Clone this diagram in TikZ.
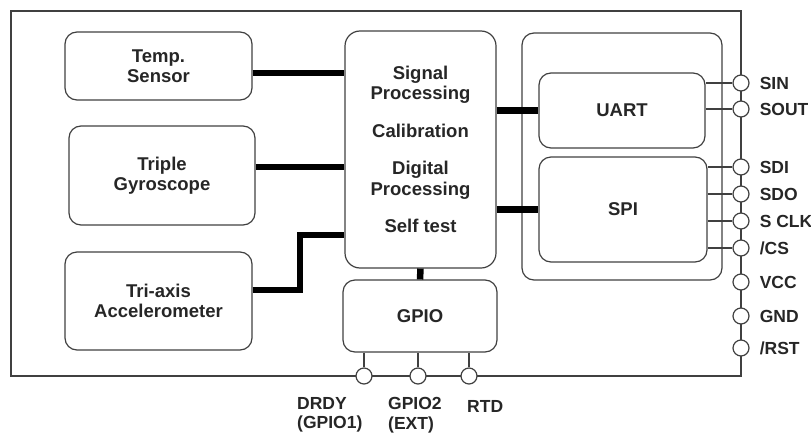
\documentclass[tikz,border=0pt]{standalone}
\usepackage{fontspec}
\setmainfont{Liberation Sans}
\usetikzlibrary{positioning}

\begin{document}
\begin{tikzpicture}[x=1pt,y=-1pt,
	blk/.style={draw=black!75, line width=1.2pt, rounded corners=12pt, align=center, inner sep=0pt,
		font=\fontsize{18.5}{20.5}\selectfont\bfseries},
	bus/.style={line width=6.5pt},
	wire/.style={draw=black!75, line width=1.2pt},
	pin/.style={circle, draw=black!75, line width=1.2pt, fill=white, minimum size=16pt, inner sep=0pt},
	lbl/.style={inner sep=0pt, align=left, anchor=west},
	font=\fontsize{17.5}{19.5}\selectfont\bfseries, text=black!85]
\useasboundingbox (0,0) rectangle (811,434);
\draw[wire, line width=1.4pt] (11,11) rectangle (741,376);

\node[blk, minimum width=187pt, minimum height=68pt] (temp) at (158.5,66) {Temp.\\Sensor};
\node[blk, minimum width=186pt, minimum height=99pt] (gyro) at (162,175.5) {Triple\\Gyroscope};
\node[blk, minimum width=187pt, minimum height=98pt] (accel) at (158.5,301) {Tri-axis\\Accelerometer};
\node[blk, rounded corners=15pt, minimum width=151pt, minimum height=237pt] (dsp) at (420.5,149.5)
	{Signal\\Processing\\[17pt]Calibration\\[17pt]Digital\\Processing\\[17pt]Self test};
\node[blk, minimum width=154pt, minimum height=72pt] (gpio) at (420,316) {GPIO};
\node[blk, minimum width=200pt, minimum height=247pt] (iface) at (622,156.5) {};
\node[blk, minimum width=166pt, minimum height=75pt] (uart) at (622,110.5) {UART};
\node[blk, minimum width=168pt, minimum height=105pt] (spi) at (623,209.5) {SPI};

% pins on the right
\node[pin] (sin) at (741,83) {};
\node[pin] (sout) at (741,109) {};
\node[pin] (sdi) at (741,167) {};
\node[pin] (sdo) at (741,194) {};
\node[pin] (sclk) at (741,221) {};
\node[pin] (cs) at (741,248) {};
\node[pin] (vcc) at (741,282) {};
\node[pin] (gnd) at (741,316) {};
\node[pin] (rst) at (741,348) {};
\node[lbl, right=10pt of sin] {SIN};
\node[lbl, right=10pt of sout] {SOUT};
\node[lbl, right=10pt of sdi] {SDI};
\node[lbl, right=10pt of sdo] {SDO};
\node[lbl, right=10pt of sclk] {S CLK};
\node[lbl, right=10pt of cs] {/CS};
\node[lbl, right=10pt of vcc] {VCC};
\node[lbl, right=10pt of gnd] {GND};
\node[lbl, right=10pt of rst] {/RST};

% pins at the bottom
\node[pin] (drdy) at (364,376) {};
\node[pin] (gpiotwo) at (418,376) {};
\node[pin] (rtd) at (469,376) {};
\node[lbl] (drdylbl) at (297,415) {DRDY\\(GPIO1)};
\node[lbl] (gpiotwolbl) at (388,415) {GPIO2\\(EXT)};
\node[lbl] (rtdlbl) at (467,406) {RTD};

% thin wires
\draw[wire] (uart.east |- sin) -- (sin);
\draw[wire] (uart.east |- sout) -- (sout);
\draw[wire] (spi.east |- sdi) -- (sdi);
\draw[wire] (spi.east |- sdo) -- (sdo);
\draw[wire] (spi.east |- sclk) -- (sclk);
\draw[wire] (spi.east |- cs) -- (cs);
\draw[wire] (drdy |- gpio.south) -- (drdy);
\draw[wire] (gpiotwo |- gpio.south) -- (gpiotwo);
\draw[wire] (rtd |- gpio.south) -- (rtd);

% thick buses
\coordinate (t) at ([yshift=-7pt]temp.east);
\coordinate (g) at ([yshift=8.5pt]gyro.east);
\coordinate (a) at ([yshift=11pt]accel.east);
\coordinate (bend) at (300,235);
\draw[bus] (t) -- (t -| dsp.west);
\draw[bus] (g) -- (g -| dsp.west);
\draw[bus] (a) -| (bend) -- (bend -| dsp.west);
\draw[bus] (dsp.east |- uart.west) -- (uart.west);
\draw[bus] (dsp.east |- spi.west) -- (spi.west);
\draw[bus] (dsp.south) -- (gpio.north);
\end{tikzpicture}
\end{document}
